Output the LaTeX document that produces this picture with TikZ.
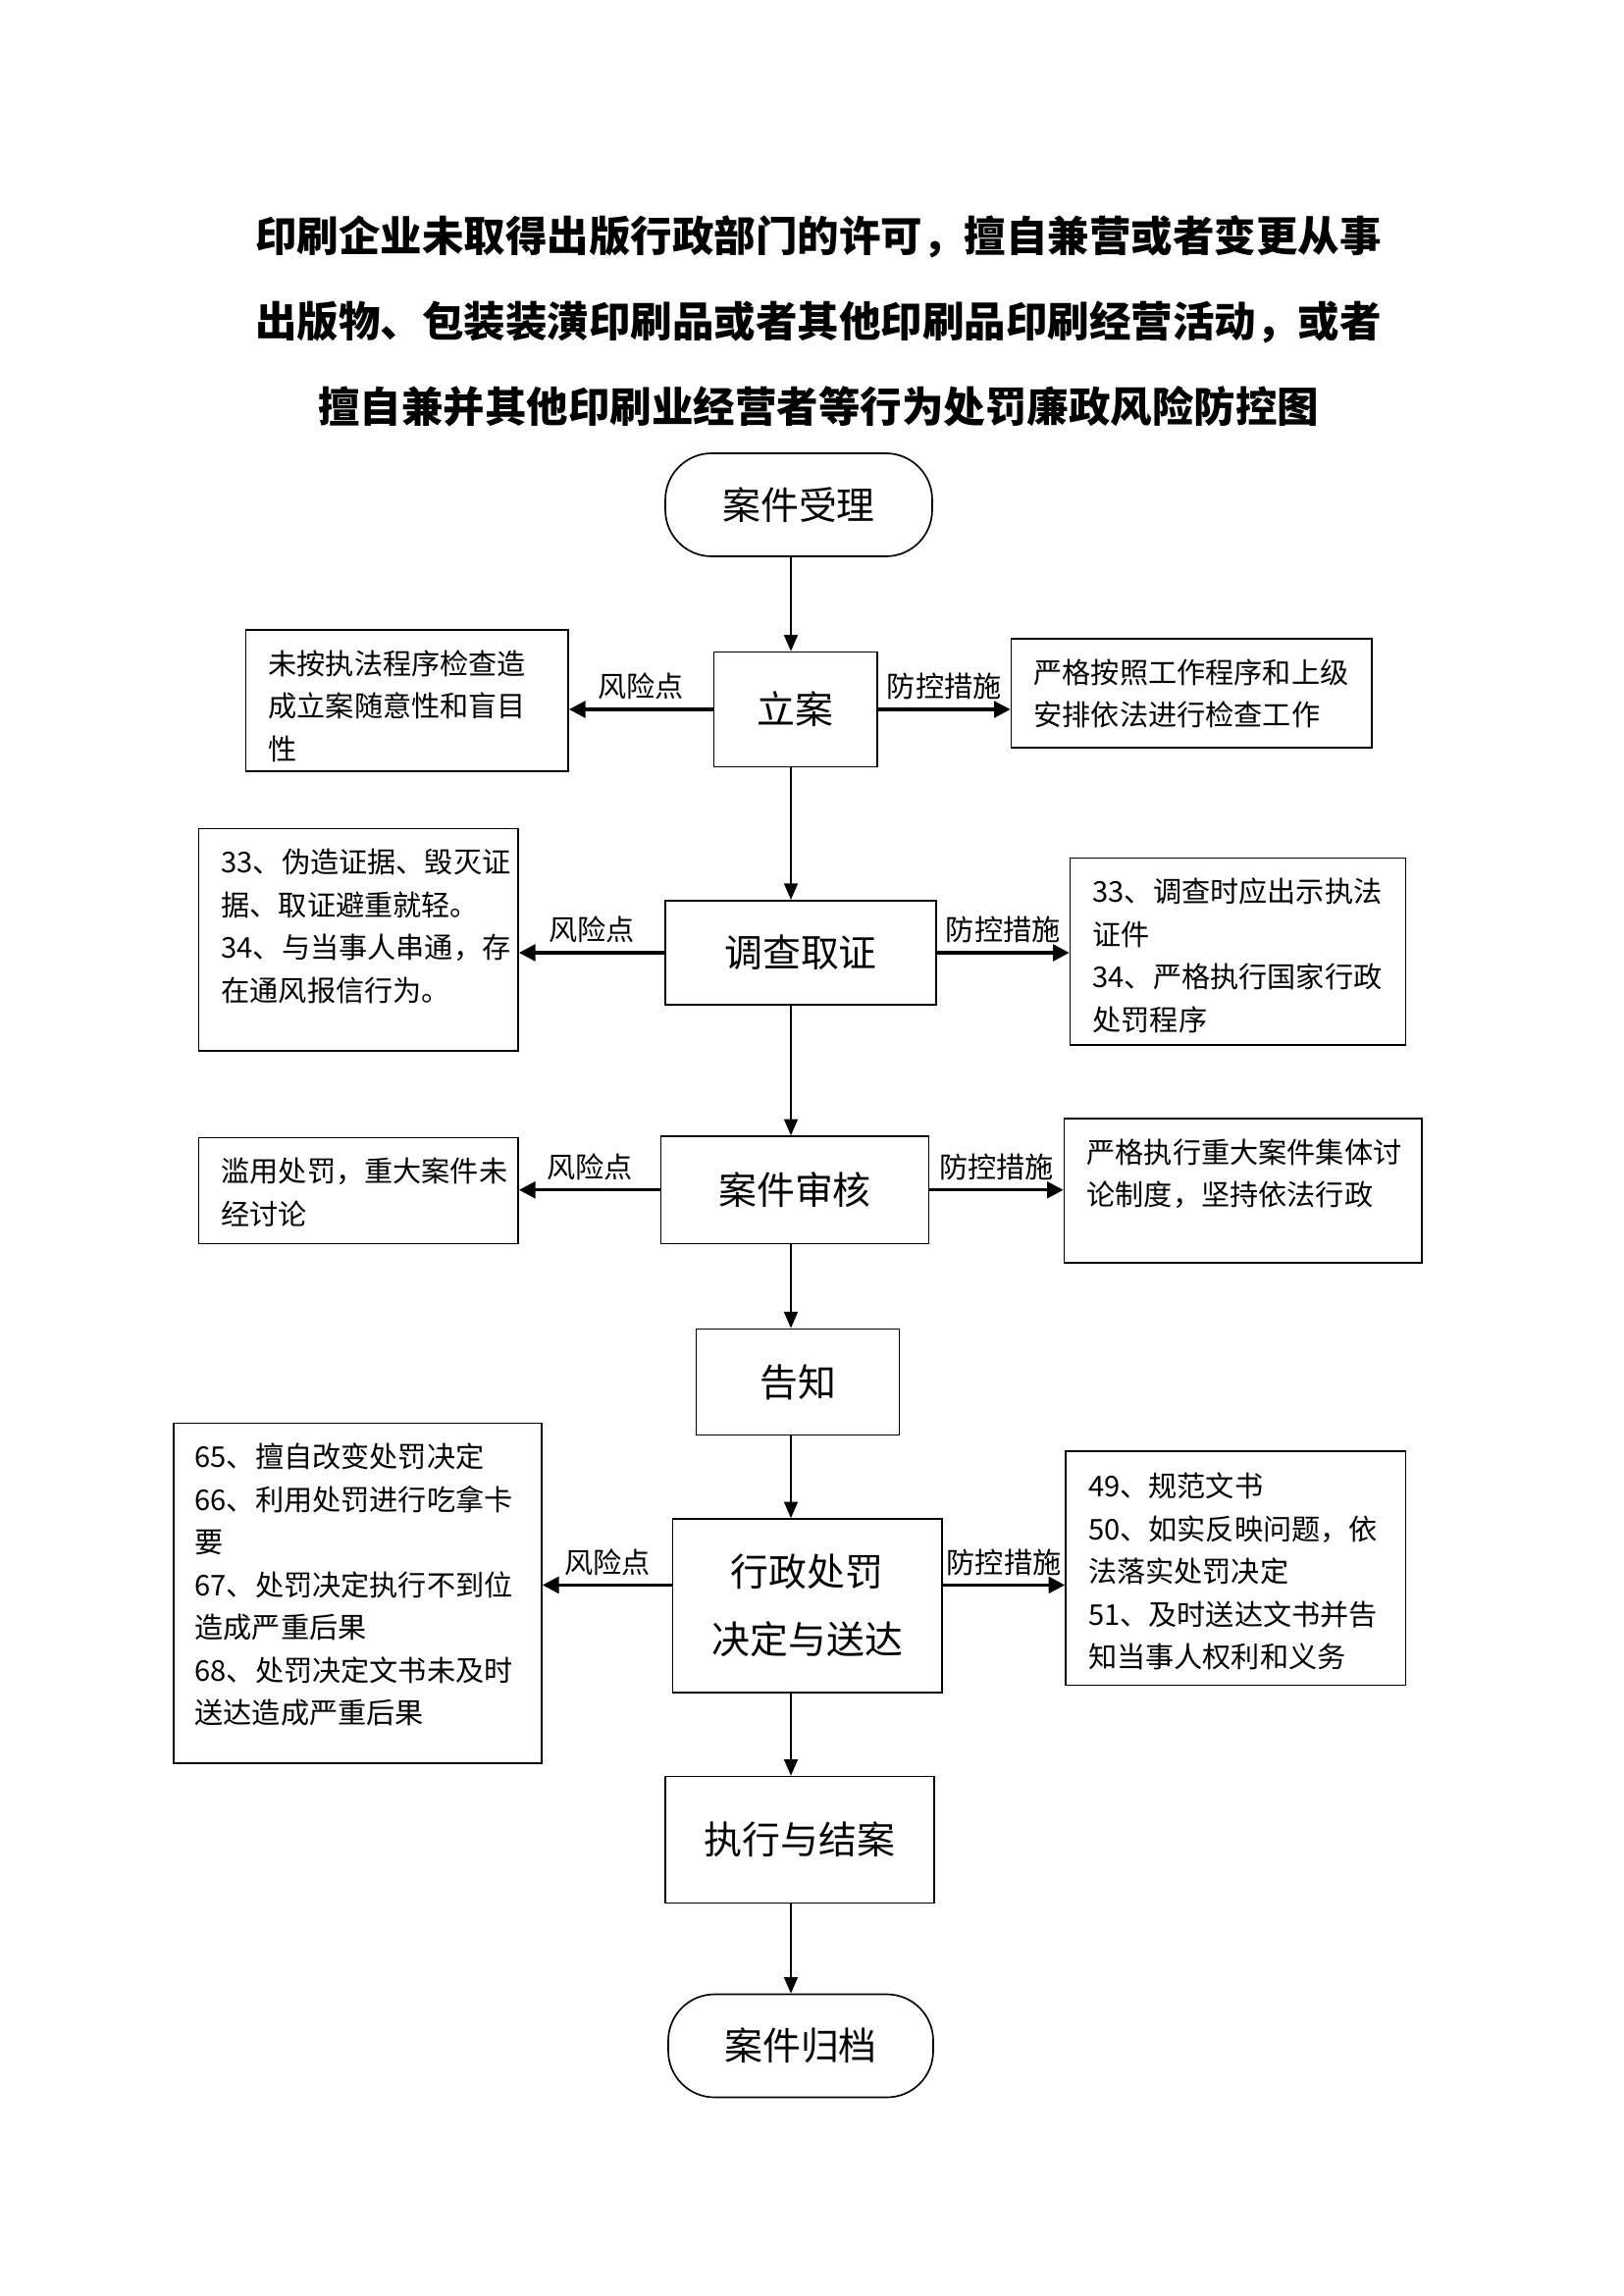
\documentclass[tikz,border=0pt]{standalone}
\usepackage{fontspec}
\setmainfont{Noto Sans CJK SC}
\usetikzlibrary{arrows.meta, calc}

\begin{document}
\begin{tikzpicture}[x=0.36pt, y=-0.36pt,
  mainbox/.style={draw, line width=0.6pt, inner sep=0pt, align=center,
    font=\fontsize{14}{24.8}\selectfont},
  endbox/.style={mainbox, rounded corners=17pt},
  sidebox/.style={draw, line width=0.6pt, inner sep=0pt},
  sidetext/.style={anchor=north west, inner sep=0pt, align=left,
    font=\fontsize{10.5}{15.66}\selectfont},
  flow/.style={line width=0.7pt, -{Triangle[length=6pt, width=5pt]}},
  side/.style={line width=1.2pt, -{Triangle[length=6pt, width=6pt]}},
  tag/.style={font=\fontsize{10.5}{12}\selectfont, inner sep=3pt}]

  \useasboundingbox (0, 0) rectangle (1654, 2340);
  \fill[white] (0, 0) rectangle (1654, 2340);

  % title
  \node[align=center, font=\fontsize{15.3}{31.3}\selectfont\bfseries] (title) at (834, 327)
  {印刷企业未取得出版行政部门的许可，擅自兼营或者变更从事\\
   出版物、包装装潢印刷品或者其他印刷品印刷经营活动，或者\\
   擅自兼并其他印刷业经营者等行为处罚廉政风险防控图};

  % main flow
  \node[endbox, minimum width=97.9pt, minimum height=37.8pt] (start) at (814, 514.5) {案件受理};
  \node[mainbox, minimum width=59.9pt, minimum height=42.1pt] (lian) at (810.75, 723) {立案};
  \node[mainbox, minimum width=99.4pt, minimum height=38.3pt] (diaocha) at (816, 971) {调查取证};
  \node[mainbox, minimum width=98.3pt, minimum height=39.4pt] (shenhe) at (810, 1212.75) {案件审核};
  \node[mainbox, minimum width=74.5pt, minimum height=38.9pt] (gaozhi) at (813, 1408.5) {告知};
  \node[mainbox, minimum width=98.8pt, minimum height=63.7pt] (chufa) at (822.75, 1636.5) {行政处罚\\决定与送达};
  \node[mainbox, minimum width=98.8pt, minimum height=46.4pt] (zhixing) at (815, 1875) {执行与结案};
  \node[endbox, minimum width=97.2pt, minimum height=37.8pt] (guidang) at (816, 2085) {案件归档};

  \coordinate (axis) at (806, 0);
  \draw[flow] (axis |- start.south) -- (axis |- lian.north);
  \draw[flow] (axis |- lian.south) -- (axis |- diaocha.north);
  \draw[flow] (axis |- diaocha.south) -- (axis |- shenhe.north);
  \draw[flow] (axis |- shenhe.south) -- (axis |- gaozhi.north);
  \draw[flow] (axis |- gaozhi.south) -- (axis |- chufa.north);
  \draw[flow] (axis |- chufa.south) -- (axis |- zhixing.north);
  \draw[flow] (axis |- zhixing.south) -- (axis |- guidang.north);

  % risk points (left)
  \node[sidebox, minimum width=118.3pt, minimum height=51.8pt] (risk1) at (414.75, 714) {};
  \node[sidetext] (risk1txt) at (273, 662)
  {未按执法程序检查造\\成立案随意性和盲目\\性};
  \node[sidebox, minimum width=117.2pt, minimum height=81.5pt] (risk2) at (365.25, 957.75) {};
  \node[sidetext] (risk2txt) at (225, 864.5)
  {33、伪造证据、毁灭证\\据、取证避重就轻。\\34、与当事人串通，存\\在通风报信行为。};
  \node[sidebox, minimum width=117.2pt, minimum height=38.9pt] (risk3) at (365.25, 1213.5) {};
  \node[sidetext] (risk3txt) at (225, 1179.5)
  {滥用处罚，重大案件未\\经讨论};
  \node[sidebox, minimum width=135pt, minimum height=124.7pt] (risk4) at (364.5, 1623.75) {};
  \node[sidetext] (risk4txt) at (198, 1470.5)
  {65、擅自改变处罚决定\\66、利用处罚进行吃拿卡\\要\\67、处罚决定执行不到位\\造成严重后果\\68、处罚决定文书未及时\\送达造成严重后果};

  % control measures (right)
  \node[sidebox, minimum width=132.3pt, minimum height=40pt] (ctrl1) at (1214.25, 706.5) {};
  \node[sidetext] (ctrl1txt) at (1053, 671)
  {严格按照工作程序和上级\\安排依法进行检查工作};
  \node[sidebox, minimum width=123.1pt, minimum height=68.6pt] (ctrl2) at (1261.5, 969.75) {};
  \node[sidetext] (ctrl2txt) at (1113, 894.5)
  {33、调查时应出示执法\\证件\\34、严格执行国家行政\\处罚程序};
  \node[sidebox, minimum width=131.2pt, minimum height=52.9pt] (ctrl3) at (1266.75, 1213.5) {};
  \node[sidetext] (ctrl3txt) at (1107, 1160)
  {严格执行重大案件集体讨\\论制度，坚持依法行政};
  \node[sidebox, minimum width=124.7pt, minimum height=85.9pt] (ctrl4) at (1259.25, 1598.25) {};
  \node[sidetext] (ctrl4txt) at (1108.5, 1500.5)
  {49、规范文书\\50、如实反映问题，依\\法落实处罚决定\\51、及时送达文书并告\\知当事人权利和义务};

  % side arrows
  \draw[side] (lian.west) -- (lian.west -| risk1.east) node[tag, midway, above] (tagr1) {风险点};
  \draw[side] (lian.east) -- (lian.east -| ctrl1.west) node[tag, midway, above] (tagc1) {防控措施};
  \draw[side] (diaocha.west) -- (diaocha.west -| risk2.east) node[tag, midway, above] (tagr2) {风险点};
  \draw[side] (diaocha.east) -- (diaocha.east -| ctrl2.west) node[tag, midway, above] (tagc2) {防控措施};
  \draw[side] (shenhe.west) -- (shenhe.west -| risk3.east) node[tag, midway, above] (tagr3) {风险点};
  \draw[side] (shenhe.east) -- (shenhe.east -| ctrl3.west) node[tag, midway, above] (tagc3) {防控措施};
  \draw[side] ([yshift=7.6pt]chufa.west) -- ([yshift=7.6pt]chufa.west -| risk4.east)
    node[tag, midway, above] (tagr4) {风险点};
  \draw[side] ([yshift=7.6pt]chufa.east) -- ([yshift=7.6pt]chufa.east -| ctrl4.west)
    node[tag, midway, above] (tagc4) {防控措施};

\end{tikzpicture}
\end{document}
